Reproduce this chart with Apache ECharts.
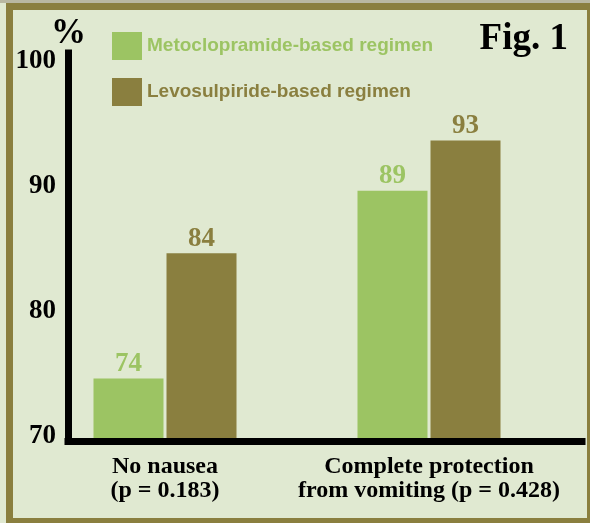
<!DOCTYPE html>
<html>
<head>
<meta charset="utf-8">
<script src="https://cdn.jsdelivr.net/npm/echarts@6/dist/echarts.min.js"></script>
<style>
  html, body { margin: 0; padding: 0; }
  body { width: 590px; height: 523px; overflow: hidden; position: relative; background: #e0e9d1; }
  #topline { position: absolute; left: 0; top: 0; width: 590px; height: 3px; background: #b9b8a2; }
  #frame { position: absolute; left: 6px; top: 3px; width: 588px; height: 522px; box-sizing: border-box; border: 7px solid #8a7f3f; }
  #chart { position: absolute; left: 0; top: 0; width: 590px; height: 523px; }
</style>
</head>
<body>
<div id="topline"></div>
<div id="frame"></div>
<div id="chart"></div>
<script>
// Outcome categories (two-line labels under the bars)
const categories = ['No nausea\n(p = 0.183)', 'Complete protection\nfrom vomiting (p = 0.428)'];
// Percentages per regimen
const metoclopramide = [74, 89];
const levosulpiride = [84, 93];
const seriesNames = ['Metoclopramide-based regimen', 'Levosulpiride-based regimen'];
// Labelled ticks on the vertical axis
const yTickLabels = [70, 80, 90, 100];

const GREEN = '#9cc463';
const OLIVE = '#8a7f3f';
const SERIF = '"Liberation Serif", "Times New Roman", serif';
const SANS = '"Liberation Sans", Arial, sans-serif';

const chart = echarts.init(document.getElementById('chart'), null, { renderer: 'canvas' });

const barLabel = (color) => ({
  show: true,
  position: 'top',
  distance: 1,
  fontFamily: SERIF,
  fontWeight: 'bold',
  fontSize: 27,
  color: color
});

chart.setOption({
  backgroundColor: 'transparent',
  animation: false,
  title: [
    {
      text: 'Fig. 1',
      right: 17,
      top: 16,
      textStyle: { fontFamily: SERIF, fontWeight: 'bold', fontSize: 37, color: '#000' }
    },
    {
      // unit of the vertical axis
      text: '%',
      left: 46,
      top: 11,
      textStyle: { fontFamily: SERIF, fontWeight: 'bold', fontSize: 35, color: '#000' }
    }
  ],
  legend: {
    orient: 'vertical',
    left: 107,
    top: 27,
    itemWidth: 30,
    itemHeight: 28,
    itemGap: 18,
    icon: 'rect',
    selectedMode: false,
    data: [
      { name: seriesNames[0], textStyle: { color: GREEN } },
      { name: seriesNames[1], textStyle: { color: OLIVE } }
    ],
    textStyle: { fontFamily: SANS, fontWeight: 'bold', fontSize: 19 }
  },
  grid: [
    // bars
    { left: 33, right: 29, top: 53, bottom: 82 },
    // framing axes
    { left: 68, right: 8, top: 53, bottom: 82 }
  ],
  xAxis: [
    {
      gridIndex: 0,
      type: 'category',
      data: categories,
      axisLine: { show: false },
      axisTick: { show: false },
      axisLabel: {
        interval: 0,
        margin: 14,
        fontFamily: SERIF,
        fontWeight: 'bold',
        fontSize: 24,
        lineHeight: 24,
        color: '#000'
      }
    },
    {
      gridIndex: 1,
      type: 'value',
      min: 0,
      max: 1,
      z: 5,
      axisLine: { show: true, lineStyle: { color: '#000', width: 7, cap: 'square' } },
      axisTick: { show: false },
      axisLabel: { show: false },
      splitLine: { show: false }
    }
  ],
  yAxis: [
    {
      gridIndex: 0,
      type: 'value',
      min: 69,
      max: 100,
      show: false
    },
    {
      gridIndex: 1,
      type: 'value',
      min: 69,
      max: 100,
      interval: 1,
      z: 5,
      axisLine: { show: true, lineStyle: { color: '#000', width: 7, cap: 'square' } },
      axisTick: { show: false },
      splitLine: { show: false },
      axisLabel: {
        margin: 12,
        verticalAlign: 'top',
        lineHeight: 16,
        fontFamily: SERIF,
        fontWeight: 'bold',
        fontSize: 27,
        color: '#000',
        formatter: (v) => (yTickLabels.indexOf(v) >= 0 ? String(v) : '')
      }
    }
  ],
  series: [
    {
      name: seriesNames[0],
      type: 'bar',
      xAxisIndex: 0,
      yAxisIndex: 0,
      data: metoclopramide,
      barWidth: 70,
      barGap: '4.3%',
      itemStyle: { color: GREEN },
      label: barLabel(GREEN)
    },
    {
      name: seriesNames[1],
      type: 'bar',
      xAxisIndex: 0,
      yAxisIndex: 0,
      data: levosulpiride,
      barWidth: 70,
      itemStyle: { color: OLIVE },
      label: barLabel(OLIVE)
    }
  ]
});
</script>
</body>
</html>
